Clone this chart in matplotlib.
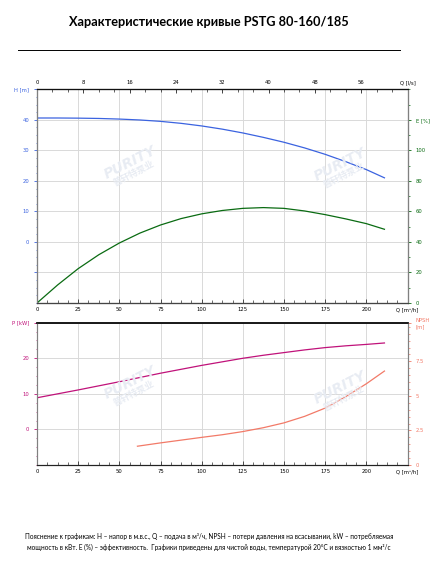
import numpy as np
import matplotlib
matplotlib.use("Agg")
from matplotlib import pyplot as plt
from matplotlib.ticker import MultipleLocator

# данные кривых (Q в м3/ч)
q_h = [0, 12.5, 25, 37.5, 50, 62.5, 75, 87.5, 100, 112.5, 125, 137.5, 150, 162.5, 175, 187.5, 200, 211]
head = [40.6, 40.6, 40.55, 40.45, 40.25, 39.95, 39.5, 38.85, 38.0, 36.95, 35.7, 34.25, 32.65, 30.8, 28.7,
        26.3, 23.7, 21.0]

q_e = [0, 12.5, 25, 37.5, 50, 62.5, 75, 87.5, 100, 112.5, 125, 137.5, 150, 162.5, 175, 187.5, 200, 211]
eff = [0, 11.8, 22.5, 31.6, 39.3, 45.8, 51.1, 55.3, 58.4, 60.6, 62.0, 62.5, 62.0, 60.3, 57.9,
       55.1, 52.0, 48.3]

q_p = [0, 12.5, 25, 37.5, 50, 62.5, 75, 87.5, 100, 112.5, 125, 137.5, 150, 162.5, 175, 187.5, 200, 211]
power = [8.9, 10.0, 11.1, 12.25, 13.4, 14.6, 15.8, 16.9, 18.0, 19.0, 20.0, 20.85, 21.6, 22.35, 23.0,
         23.5, 23.9, 24.3]

q_npsh = [61, 75, 87.5, 100, 112.5, 125, 137.5, 150, 162.5, 175, 187.5, 200, 211]
npsh = [1.36, 1.6, 1.8, 2.0, 2.19, 2.42, 2.7, 3.05, 3.52, 4.12, 4.95, 5.88, 6.8]

q_ticks = [0, 25, 50, 75, 100, 125, 150, 175, 200]
qls_ticks = [0, 8, 16, 24, 32, 40, 48, 56]
h_ticks = [0, 10, 20, 30, 40]
e_ticks = [0, 20, 40, 60, 80, 100]
p_ticks = [0, 10, 20]
npsh_ticks = [0, 2.5, 5, 7.5]

title = "Характеристические кривые PSTG 80-160/185"
note1 = ("Пояснение к графикам: H – напор в м.в.с., Q – подача в м³/ч, NPSH – потери давления на всасывании, "
         "kW – потребляемая")
note2 = ("мощность в кВт. E (%) – эффективность.  Графики приведены для чистой воды, "
         "температурой 20°C и вязкостью 1 мм²/с")

c_h = "#3b63e0"
c_e = "#0a6b12"
c_p = "#c0127a"
c_n = "#f27a68"
c_grid = "#d9d9d9"
c_spine = "#808080"
fs = 3.8

plt.rcParams["font.family"] = ["DejaVu Sans"]

fig = plt.figure(figsize=(4.42, 5.67), dpi=100)
fig.text(209 / 442, 1 - 22 / 567, title, ha="center", va="center", fontsize=9.2, fontweight="bold",
         family="Lato")
fig.add_artist(plt.Line2D([18 / 442, 400 / 442], [1 - 50 / 567, 1 - 50 / 567], color="black", lw=0.7))


def style_bottom(ax):
    ax.set_xlim(0, 225)
    ax.set_xticks(q_ticks + [225])
    ax.set_xticklabels([str(t) for t in q_ticks] + ["Q [m³/h]"])
    ax.xaxis.set_minor_locator(MultipleLocator(6.25))
    ax.tick_params(axis="x", which="both", direction="in", labelsize=fs, pad=3, color="#333333")
    ax.tick_params(axis="x", which="major", length=3, width=0.6)
    ax.tick_params(axis="x", which="minor", length=2, width=0.5)
    ax.grid(True, color=c_grid, lw=0.7)
    ax.set_axisbelow(True)


# ---- верхний график: H и E ----
ax1 = fig.add_axes([37 / 442, 1 - 303 / 567, 370.5 / 442, 213.7 / 567])
ax1.plot(q_h, head, color=c_h, lw=0.9, zorder=3)
ax1.set_ylim(-20, 50)
ax1.set_yticks([-10] + h_ticks + [50])
ax1.set_yticklabels([""] + [str(t) for t in h_ticks] + ["H [m]"])
ax1.yaxis.set_minor_locator(MultipleLocator(2.5))
ax1.tick_params(axis="y", which="both", colors=c_h, labelsize=fs, direction="out")
ax1.tick_params(axis="y", which="major", length=2, width=0.6)
ax1.tick_params(axis="y", which="minor", length=1, width=0.5)
style_bottom(ax1)

ax1e = ax1.twinx()
ax1e.plot(q_e, eff, color=c_e, lw=0.9, zorder=3)
ax1e.set_ylim(0, 140)
ax1e.set_yticks(e_ticks + [120])
ax1e.set_yticklabels([str(t) for t in e_ticks] + ["E [%]"])
ax1e.yaxis.set_minor_locator(MultipleLocator(10))
ax1e.tick_params(axis="y", which="both", colors=c_e, labelsize=fs, direction="out")
ax1e.tick_params(axis="y", which="major", length=2.5, width=0.6)
ax1e.tick_params(axis="y", which="minor", length=1.5, width=0.5)

ax1t = ax1.twiny()
ax1t.set_xlim(0, 64)
ax1t.set_xticks(qls_ticks + [64])
ax1t.set_xticklabels([str(t) for t in qls_ticks] + ["Q [l/s]"])
ax1t.xaxis.set_minor_locator(MultipleLocator(8 / 3))
ax1t.tick_params(axis="x", which="both", direction="in", labelsize=fs, pad=3, color="#222222")
ax1t.tick_params(axis="x", which="major", length=3, width=0.6)
ax1t.tick_params(axis="x", which="minor", length=2, width=0.5)

for a in (ax1, ax1e, ax1t):
    a.spines["left"].set_color(c_spine)
    a.spines["right"].set_color(c_spine)
    a.spines["bottom"].set_color("#444444")
    a.spines["top"].set_color("#111111")
    for s in a.spines.values():
        s.set_linewidth(0.8)

# ---- нижний график: P и NPSH ----
ax2 = fig.add_axes([37 / 442, 1 - 465 / 567, 370.5 / 442, 142.3 / 567])
ax2.plot(q_p, power, color=c_p, lw=0.9, zorder=3)
ax2.set_ylim(-10, 30)
ax2.set_yticks(p_ticks + [30])
ax2.set_yticklabels([str(t) for t in p_ticks] + ["P [kW]"])
ax2.yaxis.set_minor_locator(MultipleLocator(2.5))
ax2.tick_params(axis="y", which="both", colors=c_p, labelsize=fs, direction="out")
ax2.tick_params(axis="y", which="major", length=2, width=0.6)
ax2.tick_params(axis="y", which="minor", length=1, width=0.5)
style_bottom(ax2)

ax2n = ax2.twinx()
ax2n.plot(q_npsh, npsh, color=c_n, lw=0.9, zorder=3)
ax2n.set_ylim(0, 10)
ax2n.set_yticks(npsh_ticks + [10.3])
ax2n.set_yticklabels([str(t) for t in npsh_ticks] + ["NPSH\n[m]"])
ax2n.yaxis.set_minor_locator(MultipleLocator(0.5))
ax2n.tick_params(axis="y", which="both", colors=c_n, labelsize=fs, direction="out")
ax2n.tick_params(axis="y", which="major", length=2.5, width=0.6)
ax2n.tick_params(axis="y", which="minor", length=1.5, width=0.5)

for a in (ax2, ax2n):
    a.spines["left"].set_color(c_spine)
    a.spines["right"].set_color(c_spine)
    a.spines["bottom"].set_color("#222222")
    a.spines["top"].set_color("#111111")
    for s in a.spines.values():
        s.set_linewidth(0.8)
    a.spines["top"].set_linewidth(1.1)

# водяные знаки
wm = "#e8ecf3"
for x, y in [(130, 163), (340, 165), (130, 383), (340, 388)]:
    fig.text(x / 442, 1 - y / 567, "PURITY", ha="center", va="center", fontsize=10,
             fontweight="bold", style="italic", color=wm, rotation=27, zorder=0.5)
    fig.text((x + 4) / 442, 1 - (y + 11) / 567, "普轩特泵业", ha="center", va="center",
             fontsize=6.5, fontweight="bold", family="Noto Sans CJK SC", color=wm,
             rotation=27, zorder=0.5)

fig.text(209 / 442, 1 - 536.5 / 567, note1, ha="center", va="center", fontsize=4.7, family="Lato")
fig.text(209 / 442, 1 - 547.5 / 567, note2, ha="center", va="center", fontsize=4.7, family="Lato")

plt.savefig("out.png", dpi=100)
